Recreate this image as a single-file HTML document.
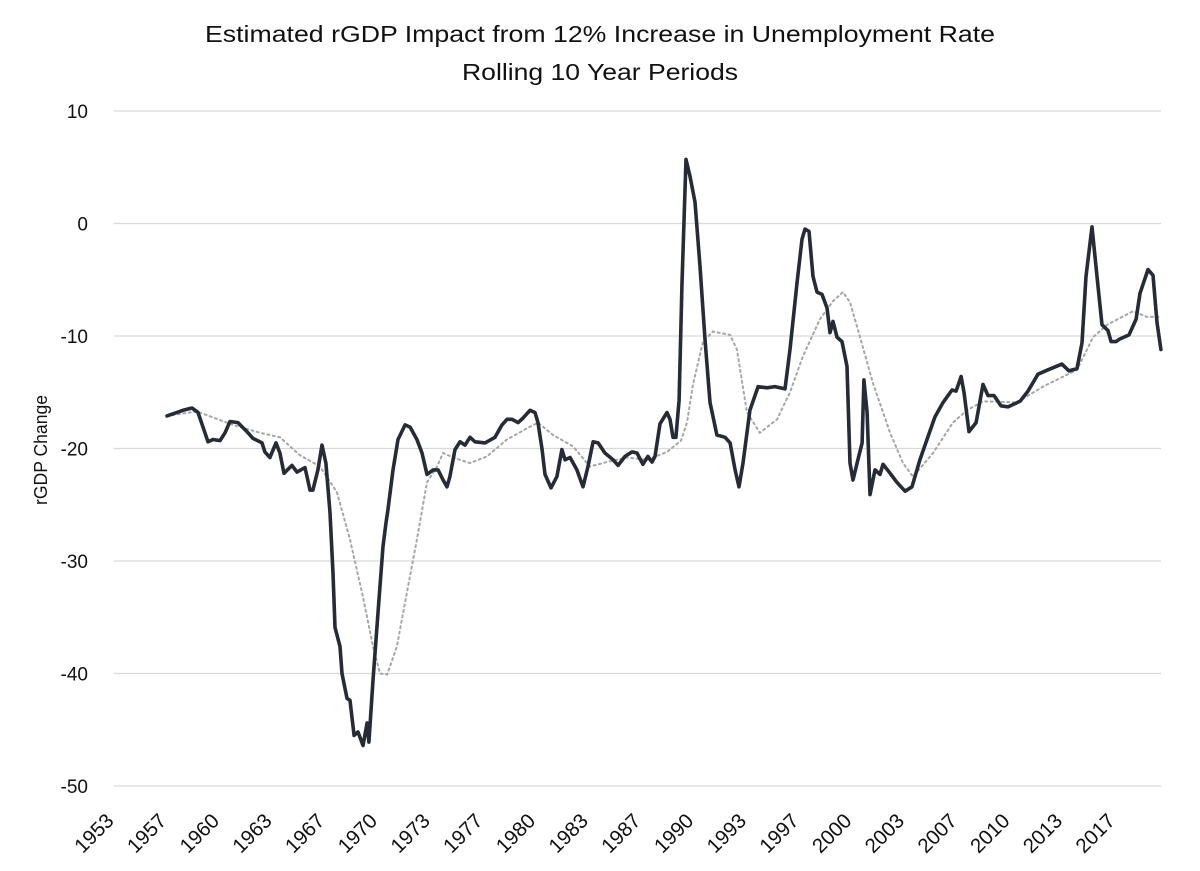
<!DOCTYPE html>
<html><head><meta charset="utf-8"><style>
body{margin:0;background:#fff}
svg{display:block;font-family:"Liberation Sans",sans-serif}
</style></head><body>
<svg id="chart" width="1200" height="871" viewBox="0 0 1200 871">
<rect width="1200" height="871" fill="#fff"/>
<text x="600" y="42" text-anchor="middle" font-size="23" fill="#111" textLength="790" lengthAdjust="spacingAndGlyphs">Estimated rGDP Impact from 12% Increase in Unemployment Rate</text>
<text x="600" y="80" text-anchor="middle" font-size="23" fill="#111" textLength="276" lengthAdjust="spacingAndGlyphs">Rolling 10 Year Periods</text>
<text transform="translate(47,450) rotate(-90)" text-anchor="middle" font-size="18" fill="#111" textLength="110" lengthAdjust="spacingAndGlyphs">rGDP Change</text>
<g id="grid"></g><g id="yticks"></g><g id="xticks"></g><g id="series"></g>
</svg>
<script>
const yTicks=[10,0,-10,-20,-30,-40,-50];
const xLabels=["1953","1957","1960","1963","1967","1970","1973","1977","1980","1983","1987","1990","1993","1997","2000","2003","2007","2010","2013","2017"];
const mainYears=[1956.39,1957.41,1957.99,1958.37,1958.69,1959.01,1959.33,1959.78,1960.10,1960.42,1960.93,1961.50,1961.89,1962.46,1962.65,1962.97,1963.36,1963.61,1963.87,1964.38,1964.70,1965.21,1965.53,1965.72,1966.04,1966.30,1966.55,1966.81,1967.00,1967.13,1967.45,1967.58,1967.90,1968.09,1968.35,1968.60,1968.92,1969.18,1969.30,1969.56,1969.88,1970.20,1970.39,1970.52,1970.84,1971.16,1971.61,1971.93,1972.37,1972.69,1973.01,1973.40,1973.72,1974.04,1974.29,1974.48,1974.80,1975.12,1975.44,1975.76,1976.08,1976.72,1977.36,1977.81,1978.13,1978.45,1978.83,1979.15,1979.60,1979.92,1980.11,1980.37,1980.56,1980.94,1981.32,1981.64,1981.84,1982.16,1982.60,1982.99,1983.31,1983.63,1983.95,1984.39,1984.91,1985.23,1985.67,1986.12,1986.44,1986.82,1987.14,1987.40,1987.59,1987.91,1988.36,1988.55,1988.74,1988.93,1989.13,1989.32,1989.57,1989.83,1990.15,1990.47,1990.79,1991.11,1991.55,1992.07,1992.39,1992.71,1992.96,1993.22,1993.66,1994.18,1994.75,1995.26,1995.90,1996.22,1996.67,1996.99,1997.18,1997.44,1997.69,1997.95,1998.27,1998.59,1998.78,1998.97,1999.23,1999.55,1999.87,2000.06,2000.25,2000.51,2000.83,2000.95,2001.15,2001.34,2001.66,2001.98,2002.17,2002.62,2003.06,2003.58,2004.02,2004.53,2004.98,2005.49,2006.01,2006.58,2006.84,2007.16,2007.35,2007.67,2008.12,2008.56,2008.88,2009.27,2009.71,2010.16,2010.93,2011.44,2012.08,2012.72,2013.61,2014.06,2014.57,2014.89,2015.15,2015.53,2015.85,2016.17,2016.55,2016.75,2017.07,2017.26,2017.90,2018.35,2018.60,2019.11,2019.43,2019.69,2019.94];
const mainValues=[-17.1,-16.6,-16.4,-16.8,-18.1,-19.4,-19.2,-19.3,-18.6,-17.6,-17.7,-18.5,-19.1,-19.5,-20.3,-20.8,-19.5,-20.4,-22.2,-21.5,-22.1,-21.7,-23.7,-23.7,-21.9,-19.7,-21.3,-25.7,-31.1,-35.9,-37.6,-40.0,-42.2,-42.4,-45.5,-45.2,-46.4,-44.4,-46.1,-40.6,-34.6,-28.7,-26.6,-25.4,-21.9,-19.2,-17.9,-18.1,-19.2,-20.4,-22.3,-21.9,-21.9,-22.8,-23.4,-22.5,-20.1,-19.4,-19.7,-19.0,-19.4,-19.5,-19.0,-17.9,-17.4,-17.4,-17.7,-17.3,-16.6,-16.8,-17.7,-20.1,-22.3,-23.5,-22.5,-20.1,-21.0,-20.8,-21.9,-23.4,-21.6,-19.4,-19.5,-20.4,-21.0,-21.5,-20.7,-20.3,-20.4,-21.4,-20.7,-21.2,-20.7,-17.8,-16.8,-17.4,-19.0,-19.0,-15.7,-5.3,5.7,4.2,1.9,-3.8,-10.3,-15.9,-18.8,-19.0,-19.5,-21.9,-23.4,-21.3,-16.6,-14.5,-14.6,-14.5,-14.7,-11.2,-5.3,-1.4,-0.5,-0.7,-4.7,-6.1,-6.3,-7.5,-9.7,-8.7,-10.1,-10.5,-12.7,-21.3,-22.8,-21.3,-19.5,-13.9,-16.8,-24.1,-21.9,-22.3,-21.4,-22.2,-23.0,-23.8,-23.4,-21.0,-19.2,-17.2,-15.9,-14.8,-14.9,-13.6,-15.0,-18.5,-17.7,-14.3,-15.3,-15.3,-16.2,-16.3,-15.8,-14.9,-13.4,-13.0,-12.5,-13.1,-12.9,-10.6,-4.7,-0.3,-4.7,-9.0,-9.5,-10.5,-10.5,-10.3,-9.9,-8.5,-6.2,-4.1,-4.6,-8.8,-11.2];
const avgYears=[1956.39,1958.31,1960.61,1962.34,1963.61,1964.89,1966.17,1967.26,1968.09,1968.92,1969.56,1970.01,1970.46,1971.09,1971.73,1972.37,1973.01,1973.65,1974.04,1974.68,1975.76,1976.85,1978.13,1979.41,1980.11,1981.07,1982.35,1983.43,1984.52,1985.80,1987.08,1988.36,1989.25,1989.64,1990.02,1990.66,1991.30,1992.39,1992.83,1993.47,1994.30,1995.39,1996.22,1997.05,1998.14,1998.97,1999.61,2000.06,2000.70,2001.53,2002.62,2003.45,2004.09,2005.37,2006.64,2007.54,2008.56,2010.74,2012.40,2014.57,2015.60,2016.49,2018.15,2019.05,2019.88];
const avgValues=[-17.1,-16.7,-17.9,-18.6,-19.0,-20.6,-21.6,-23.9,-28.1,-33.2,-37.6,-40.0,-40.1,-37.6,-32.8,-28.1,-23.0,-21.6,-20.4,-20.8,-21.3,-20.7,-19.2,-18.2,-17.7,-18.8,-19.8,-21.6,-21.2,-20.8,-21.0,-20.3,-19.3,-17.7,-14.3,-10.5,-9.6,-9.9,-11.2,-16.8,-18.6,-17.4,-15.0,-11.8,-8.5,-6.9,-6.1,-7.0,-10.1,-14.2,-18.6,-21.3,-22.5,-20.4,-17.7,-16.6,-15.8,-15.9,-14.5,-13.0,-10.1,-9.0,-7.8,-8.3,-8.3];

const NS="http://www.w3.org/2000/svg";
const plotL=114,plotR=1161,yTop=111,yBot=786,yMax=10,yMin=-50,xStart=1953,xPerYear=15.64;
function xs(yr){return plotL+(yr-xStart)*xPerYear;}
function ys(v){return yTop+(yMax-v)/(yMax-yMin)*(yBot-yTop);}
function mk(tag,attrs,parent){const e=document.createElementNS(NS,tag);for(const k in attrs)e.setAttribute(k,attrs[k]);parent.appendChild(e);return e;}
const grid=document.getElementById('grid'),yt=document.getElementById('yticks'),xt=document.getElementById('xticks'),ser=document.getElementById('series');
yTicks.forEach(v=>{
  const l=mk('line',{x1:plotL,x2:plotR,y1:ys(v),y2:ys(v),stroke:'#d9d9d9','stroke-width':1.3},grid);
  
  
  const t=mk('text',{x:88,y:ys(v)+7,'text-anchor':'end','font-size':19,fill:'#111'},yt);
  t.textContent=String(v);
  
  
});
const labelStep=52.7;
xLabels.forEach((s,i)=>{
  const x=115+i*labelStep;
  const t=mk('text',{transform:'translate('+x.toFixed(1)+',822) rotate(-45)','text-anchor':'end','font-size':20.5,fill:'#111'},xt);
  t.textContent=s;
  
  
});
function path(xsA,vsA){return xsA.map((y,i)=>(i?'L':'M')+xs(y).toFixed(1)+' '+ys(vsA[i]).toFixed(1)).join(' ');}
const avg=mk('path',{d:path(avgYears,avgValues),fill:'none',stroke:'#a6a6a6','stroke-width':2,'stroke-dasharray':'2 3.5','stroke-linecap':'round'},ser);


const main=mk('path',{d:path(mainYears,mainValues),fill:'none',stroke:'#262b36','stroke-width':3.6,'stroke-linejoin':'round','stroke-linecap':'round'},ser);


</script>
</body></html>
